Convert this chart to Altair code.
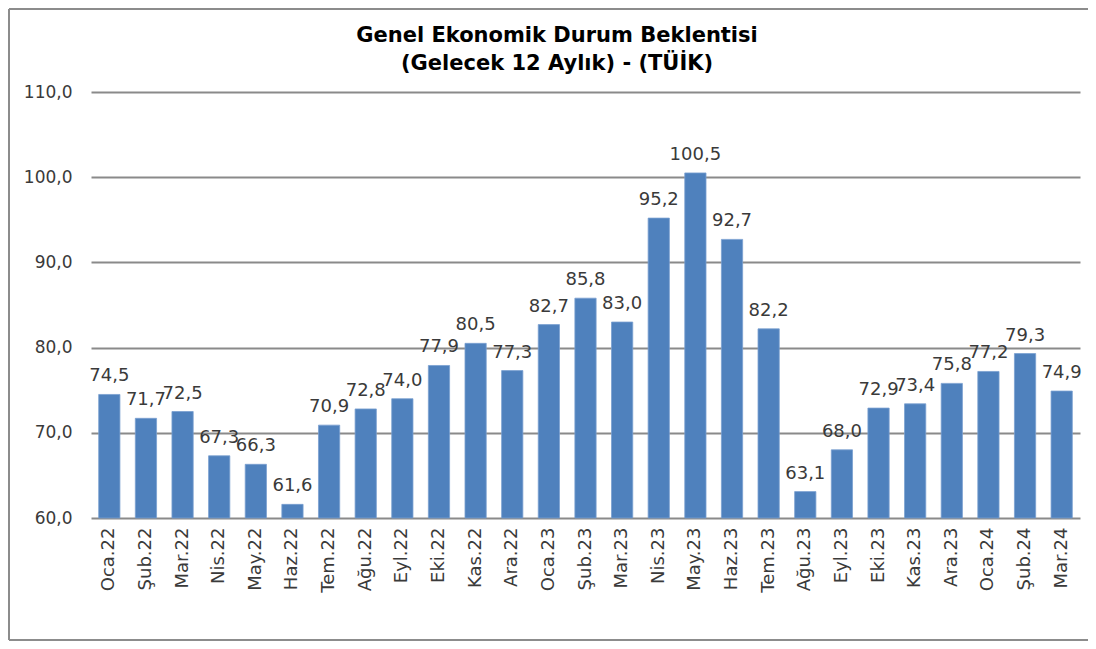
import altair as alt
import pandas as pd

months = ["Oca.22", "Şub.22", "Mar.22", "Nis.22", "May.22", "Haz.22", "Tem.22", "Ağu.22", "Eyl.22",
          "Eki.22", "Kas.22", "Ara.22", "Oca.23", "Şub.23", "Mar.23", "Nis.23", "May.23", "Haz.23",
          "Tem.23", "Ağu.23", "Eyl.23", "Eki.23", "Kas.23", "Ara.23", "Oca.24", "Şub.24", "Mar.24"]
values = [74.5, 71.7, 72.5, 67.3, 66.3, 61.6, 70.9, 72.8, 74.0,
          77.9, 80.5, 77.3, 82.7, 85.8, 83.0, 95.2, 100.5, 92.7,
          82.2, 63.1, 68.0, 72.9, 73.4, 75.8, 77.2, 79.3, 74.9]
title_lines = ["Genel Ekonomik Durum Beklentisi", "(Gelecek 12 Aylık) - (TÜİK)"]

df = pd.DataFrame({"ay": months, "deger": values})
one = pd.DataFrame({"k": [0]})

W, H = 989, 426
FONT = "DejaVu Sans"
TXT = "#3a3a3a"

x_enc = alt.X("ay:N", sort=months, title=None,
              scale=alt.Scale(paddingInner=0.42, paddingOuter=0.21),
              axis=alt.Axis(labelAngle=270, labelAlign="right", labelBaseline="middle",
                            labelPadding=9, ticks=False, domain=False, labelFontSize=18,
                            labelColor=TXT, labelFont=FONT))
y_enc = alt.Y("deger:Q", title=None,
              scale=alt.Scale(domain=[60, 110], nice=False, zero=False),
              axis=alt.Axis(values=[60, 70, 80, 90, 100, 110], ticks=False, domain=False,
                            labelPadding=19, labelFontSize=17, labelColor=TXT, labelFont=FONT,
                            labelExpr="replace(format(datum.value, '.1f'), '.', ',')",
                            grid=True, gridColor="#8a8a8a", gridWidth=1.8))

bars = alt.Chart(df).mark_bar(color="#4F81BD", stroke="#7a9fd0", strokeWidth=0.8).encode(
    x=x_enc, y=y_enc, y2=alt.datum(60))

labels = alt.Chart(df).transform_calculate(
    lbl="replace(format(datum.deger, '.1f'), '.', ',')"
).mark_text(baseline="bottom", dy=-9, fontSize=18, font=FONT, color=TXT).encode(
    x=alt.X("ay:N", sort=months), y="deger:Q", text="lbl:N")

title1 = alt.Chart(one).mark_text(fontSize=21, fontWeight="bold", font=FONT, color="#000000",
                                  baseline="middle", align="center").encode(
    x=alt.value(466), y=alt.value(-56), text=alt.value(title_lines[0]))
title2 = alt.Chart(one).mark_text(fontSize=21, fontWeight="bold", font=FONT, color="#000000",
                                  baseline="middle", align="center").encode(
    x=alt.value(466), y=alt.value(-28), text=alt.value(title_lines[1]))

frame_left = alt.Chart(one).mark_rule(color="#8c8c8c", strokeWidth=2).encode(
    x=alt.value(-82), y=alt.value(-83), y2=alt.value(548))
frame_top = alt.Chart(one).mark_rule(color="#8c8c8c", strokeWidth=2).encode(
    x=alt.value(-82), x2=alt.value(1000), y=alt.value(-83))
frame_bottom = alt.Chart(one).mark_rule(color="#8c8c8c", strokeWidth=2).encode(
    x=alt.value(-82), x2=alt.value(1000), y=alt.value(548))

chart = alt.layer(bars, labels, title1, title2, frame_left, frame_top, frame_bottom).properties(
    width=W, height=H,
    autosize=alt.AutoSizeParams(type="none"),
    padding={"left": 83, "top": 84, "right": 8, "bottom": 123},
).configure_view(stroke=None)

chart.save("out.html", embed_options={"renderer": "svg", "actions": False})
